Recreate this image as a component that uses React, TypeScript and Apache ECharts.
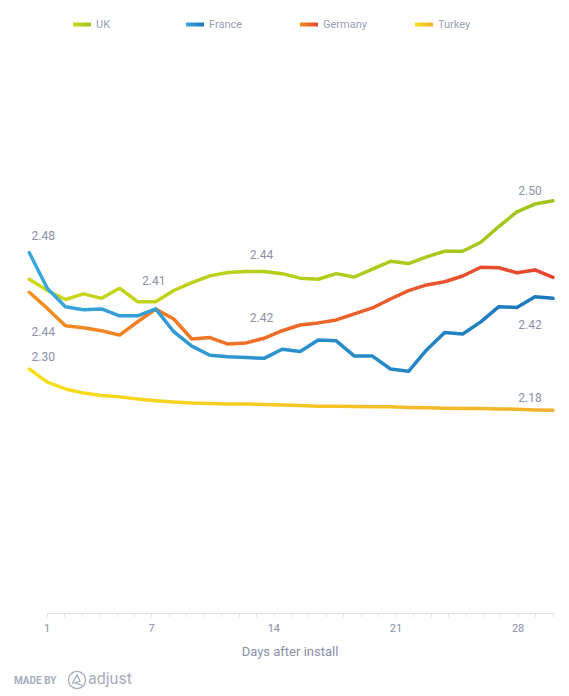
import React, { useEffect, useRef } from "react";
import * as echarts from "echarts";

const days = [1, 2, 3, 4, 5, 6, 7, 8, 9, 10, 11, 12, 13, 14, 15, 16, 17, 18, 19, 20, 21, 22, 23, 24, 25, 26, 27, 28, 29, 30];
const tickLabels = [1, 7, 14, 21, 28];

const uk = [2.430, 2.420, 2.412, 2.417, 2.413, 2.422, 2.410, 2.410, 2.420, 2.427, 2.433, 2.436, 2.437, 2.437, 2.435, 2.431, 2.430, 2.435, 2.432, 2.439, 2.446, 2.444, 2.450, 2.455, 2.455, 2.463, 2.477, 2.490, 2.497, 2.500];
const france = [2.480, 2.433, 2.409, 2.405, 2.406, 2.397, 2.397, 2.406, 2.376, 2.357, 2.345, 2.343, 2.342, 2.341, 2.353, 2.350, 2.365, 2.364, 2.344, 2.344, 2.327, 2.324, 2.352, 2.375, 2.373, 2.389, 2.409, 2.408, 2.422, 2.420];
const germany = [2.4400, 2.4330, 2.4255, 2.4246, 2.4233, 2.4214, 2.4272, 2.4327, 2.4284, 2.4197, 2.4203, 2.4175, 2.4180, 2.4200, 2.4233, 2.4258, 2.4267, 2.4280, 2.4306, 2.4332, 2.4371, 2.4407, 2.4432, 2.4446, 2.4471, 2.4509, 2.4507, 2.4485, 2.4497, 2.4465];
const turkey = [2.300, 2.262, 2.242, 2.230, 2.223, 2.219, 2.213, 2.208, 2.204, 2.201, 2.200, 2.198, 2.198, 2.197, 2.195, 2.194, 2.192, 2.192, 2.191, 2.190, 2.190, 2.188, 2.187, 2.186, 2.185, 2.185, 2.184, 2.183, 2.181, 2.180];

const seriesNames = ["UK", "France", "Germany", "Turkey"];

const labelColor = "#8a90a8";
const font = "Roboto, 'Noto Sans', sans-serif";

function grad(a: string, b: string) {
  return new echarts.graphic.LinearGradient(0, 0, 1, 0, [
    { offset: 0, color: a },
    { offset: 1, color: b },
  ]);
}

function pairs(vals: number[]) {
  return days.map((d, i) => [d, vals[i]]);
}

function mark(vals: number[], idx: number, offset: number[]) {
  return {
    coord: [days[idx], vals[idx]],
    value: vals[idx].toFixed(2),
    label: { offset },
  };
}

export default function App() {
  const ref = useRef<HTMLDivElement>(null);
  useEffect(() => {
    if (!ref.current) return;
    const chart = echarts.init(ref.current, undefined, { renderer: "svg" });

    const markPointBase = {
      symbol: "circle",
      symbolSize: 0,
      silent: true,
      label: {
        show: true,
        position: "inside",
        color: labelColor,
        fontSize: 12,
        fontFamily: font,
        formatter: (p: any) => p.value,
      },
    };

    const lineBase = (name: string, vals: number[], color: any, yIdx: number, z: number, marks: any[]) => ({
      name,
      type: "line",
      xAxisIndex: 0,
      yAxisIndex: yIdx,
      data: pairs(vals),
      showSymbol: false,
      symbol: "none",
      z,
      lineStyle: { width: 3.5, color, cap: "round", join: "round" },
      itemStyle: { color },
      markPoint: { ...markPointBase, data: marks },
    });

    const legendCommon = {
      top: 19,
      padding: 0,
      icon: "rect",
      itemWidth: 18,
      itemHeight: 4,
      textStyle: { color: "#9aa0b5", fontSize: 11, fontFamily: font },
      selectedMode: false,
    };

    const option: any = {
      animation: false,
      backgroundColor: "#ffffff",
      legend: [
        { ...legendCommon, left: 73, data: ["UK"] },
        { ...legendCommon, left: 186, data: ["France"] },
        { ...legendCommon, left: 300, data: ["Germany"] },
        { ...legendCommon, left: 415, data: ["Turkey"] },
      ],
      grid: [
        { left: 29.3, right: 16, top: 60, bottom: 83 },
        { left: 47, right: 16, top: 60, bottom: 83 },
      ],
      xAxis: [
        { type: "value", gridIndex: 0, min: 1, max: 30, show: false },
        {
          type: "value",
          gridIndex: 1,
          min: 1,
          max: 30,
          interval: 1,
          axisLine: { show: true, lineStyle: { color: "#dfe2e8", width: 1 } },
          axisTick: { show: true, length: 4, lineStyle: { color: "#dfe2e8" } },
          splitLine: { show: false },
          axisLabel: {
            color: labelColor,
            fontSize: 11,
            fontFamily: font,
            margin: 10,
            formatter: (v: number) => (tickLabels.includes(v) ? String(v) : ""),
          },
          name: "Days after install",
          nameLocation: "middle",
          nameGap: 32,
          nameTextStyle: { color: labelColor, fontSize: 13, fontFamily: font, padding: [0, 20, 0, 0] },
        },
      ],
      yAxis: [
        { type: "value", gridIndex: 0, min: 2.13255, max: 2.62542, show: false },
        { type: "value", gridIndex: 0, min: 2.00592, max: 2.73355, show: false },
        { type: "value", gridIndex: 0, min: 2.30057, max: 2.541, show: false },
        { type: "value", gridIndex: 0, min: 1.5907, max: 3.19826, show: false },
        { type: "value", gridIndex: 1, min: 0, max: 1, show: false },
      ],
      series: [
        lineBase(seriesNames[3], turkey, grad("#f7df1c", "#f1b02a"), 3, 2, [
          mark(turkey, 0, [14, -12]),
          mark(turkey, 29, [-23, -12]),
        ]),
        lineBase(seriesNames[2], germany, grad("#f29020", "#e6432f"), 2, 3, [
          mark(germany, 0, [14, 40]),
          mark(germany, 13, [-2.5, -20]),
        ]),
        lineBase(seriesNames[0], uk, grad("#cbd71a", "#9fc41c"), 0, 4, [
          mark(uk, 7, [-2, -21]),
          mark(uk, 13, [-2.5, -16]),
          mark(uk, 29, [-23, -10]),
        ]),
        lineBase(seriesNames[1], france, grad("#3aa8dd", "#1a78bc"), 1, 5, [
          mark(france, 0, [14, -17]),
          mark(france, 29, [-23, 27]),
        ]),
      ],
      graphic: [
        {
          type: "text",
          left: 14,
          top: 675,
          style: { text: "MADE BY", fill: "#a7acbb", fontSize: 10, fontWeight: "bold", fontFamily: font },
        },
        {
          type: "circle",
          shape: { cx: 77, cy: 680, r: 8.5 },
          style: { fill: "none", stroke: "#a7acbb", lineWidth: 1.3 },
        },
        {
          type: "polyline",
          shape: { points: [[72, 684], [77, 675], [80, 681], [75, 683], [82, 685]] },
          style: { fill: "none", stroke: "#a7acbb", lineWidth: 1.3 },
        },
        {
          type: "text",
          left: 88,
          top: 670,
          style: { text: "adjust", fill: "#a7acbb", fontSize: 16, fontFamily: font },
        },
      ],
    };

    chart.setOption(option);
    return () => chart.dispose();
  }, []);

  return (
    <div
      ref={ref}
      style={{ position: "absolute", left: 0, top: 0, width: 569, height: 696, background: "#fff" }}
    />
  );
}
